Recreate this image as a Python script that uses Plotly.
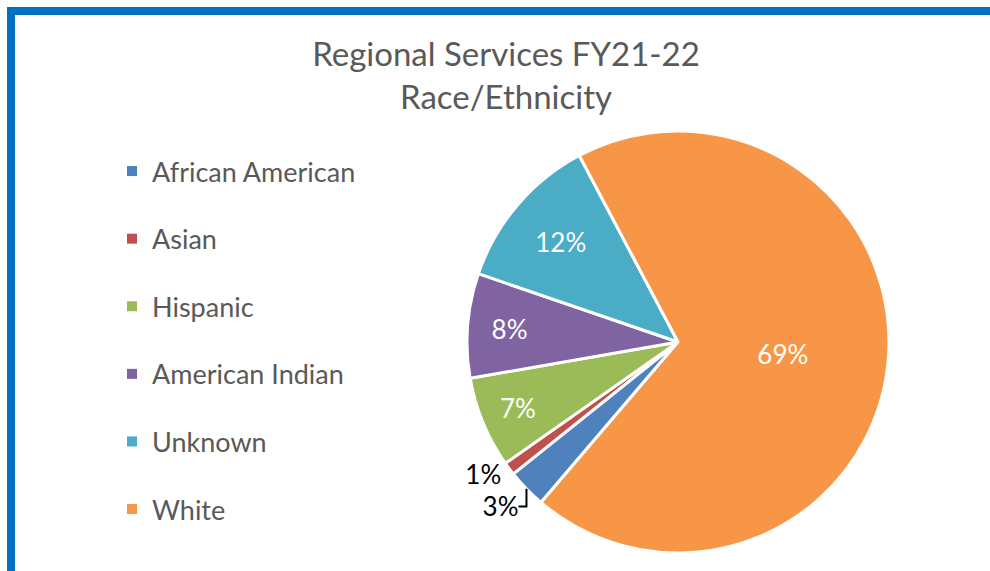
import plotly.graph_objects as go

categories = ["African American", "Asian", "Hispanic", "American Indian", "Unknown", "White"]
values = [3, 1, 7, 8, 12, 69]
colors = ["#4F81BD", "#C0504D", "#9BBB59", "#8064A2", "#4BACC6", "#F79646"]
text_positions = ["outside", "outside", "inside", "inside", "inside", "inside"]
text_colors = ["#000000", "#000000", "#FFFFFF", "#FFFFFF", "#FFFFFF", "#FFFFFF"]

W, H = 990, 571
FONT = "Lato, Open Sans, sans-serif"

fig = go.Figure()

fig.add_trace(go.Pie(
    labels=categories,
    values=values,
    sort=False,
    direction="clockwise",
    rotation=220.5,
    marker=dict(colors=colors, line=dict(color="white", width=3)),
    texttemplate="%{percent:.0%}",
    textposition=text_positions,
    insidetextorientation="horizontal",
    textfont=dict(family=FONT, size=26, color=text_colors),
    domain=dict(x=[467 / W, 889 / W], y=[18 / H, 440 / H]),
    showlegend=False,
    hoverinfo="label+percent",
))

for cat, col in zip(categories, colors):
    fig.add_trace(go.Scatter(
        x=[None], y=[None], mode="markers", name=cat,
        legendgroup=cat,
        marker=dict(symbol="square", size=10, color=col),
        showlegend=True,
    ))

fig.update_layout(
    width=W, height=H,
    margin=dict(l=0, r=0, t=0, b=0),
    paper_bgcolor="white",
    plot_bgcolor="white",
    xaxis=dict(visible=False),
    yaxis=dict(visible=False),
    title=dict(
        text="Regional Services FY21-22<br>Race/Ethnicity",
        x=506 / W, xanchor="center",
        y=1 - 66 / H, yanchor="top",
        font=dict(family=FONT, size=33, color="#595959"),
    ),
    legend=dict(
        x=112 / W, xanchor="left",
        y=1 - 147 / H, yanchor="top",
        font=dict(family=FONT, size=27, color="#595959"),
        tracegroupgap=29.5,
        traceorder="grouped",
        bgcolor="rgba(0,0,0,0)",
    ),
    shapes=[dict(
        type="rect", xref="paper", yref="paper",
        x0=11 / W, x1=1.05, y0=-0.05, y1=1 - 11 / H,
        line=dict(color="#0070C0", width=8),
        fillcolor="rgba(0,0,0,0)",
        layer="above",
    )],
)

fig.write_html(
    "out.html",
    config={"displayModeBar": False},
    post_script="document.body.style.margin='0';",
)
